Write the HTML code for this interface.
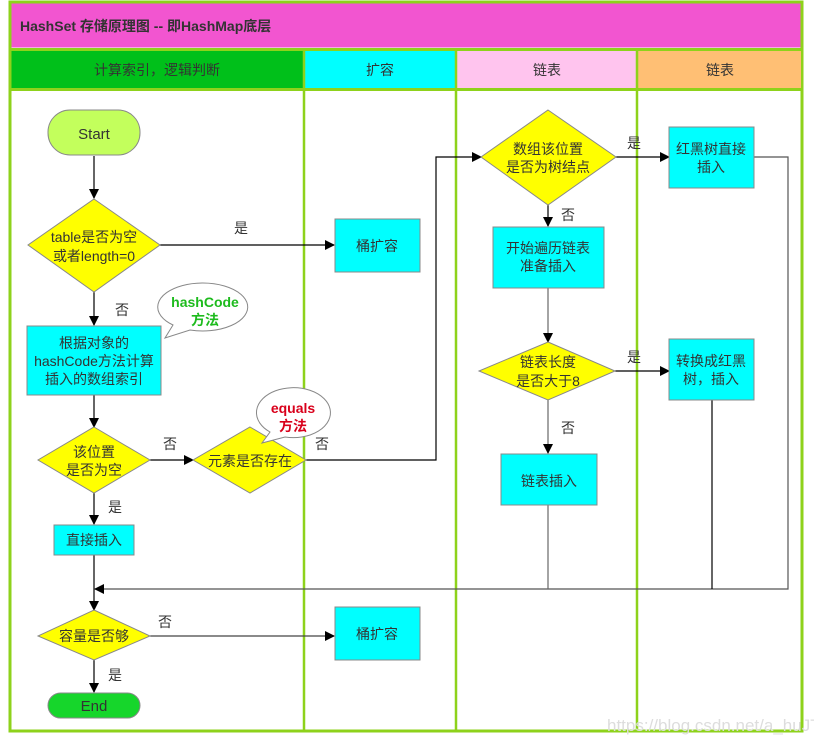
<!DOCTYPE html>
<html><head><meta charset="utf-8"><style>
html,body{margin:0;padding:0;background:#fff;}
svg{display:block;font-family:"Liberation Sans","Noto Sans CJK SC",sans-serif;}
text{font-size:14px;fill:#333;}
</style></head><body>
<svg width="814" height="743" viewBox="0 0 814 743" xmlns="http://www.w3.org/2000/svg">
<defs>
<marker id="a" markerWidth="10" markerHeight="10" refX="9" refY="5" orient="auto" markerUnits="userSpaceOnUse"><path d="M0,0 L10,5 L0,10 z" fill="#000"/></marker>
</defs>
<rect x="0" y="0" width="814" height="743" fill="#fff"/>
<rect x="10" y="2" width="792" height="729" fill="#fff" stroke="#8ed21b" stroke-width="3"/>
<rect x="11.5" y="3.5" width="789" height="44" fill="#f255d0"/>
<text x="20" y="31" style="font-size:14px;font-weight:bold;fill:#333">HashSet 存储原理图 -- 即HashMap底层</text>
<line x1="10" y1="49.5" x2="802" y2="49.5" stroke="#8ed21b" stroke-width="3"/>
<rect x="11.5" y="51" width="292" height="37" fill="#00c01a"/>
<rect x="305" y="51" width="150" height="37" fill="#00ffff"/>
<rect x="457" y="51" width="179" height="37" fill="#ffc4ee"/>
<rect x="638" y="51" width="163" height="37" fill="#ffbf74"/>
<line x1="10" y1="89.5" x2="802" y2="89.5" stroke="#8ed21b" stroke-width="3"/>
<line x1="304" y1="49" x2="304" y2="731" stroke="#8ed21b" stroke-width="2.5"/>
<line x1="456" y1="49" x2="456" y2="731" stroke="#8ed21b" stroke-width="2.5"/>
<line x1="637" y1="49" x2="637" y2="731" stroke="#8ed21b" stroke-width="2.5"/>
<g text-anchor="middle" style="font-size:15px">
<text x="157" y="75">计算索引，逻辑判断</text>
<text x="380" y="75">扩容</text>
<text x="547" y="75">链表</text>
<text x="720" y="75">链表</text>
</g>

<g stroke="#000" stroke-width="1.2" fill="none">
<line x1="94" y1="156" x2="94" y2="198" marker-end="url(#a)"/>
<line x1="160" y1="245" x2="334" y2="245" marker-end="url(#a)"/>
<line x1="94" y1="292" x2="94" y2="325" marker-end="url(#a)"/>
<line x1="94" y1="395" x2="94" y2="427" marker-end="url(#a)"/>
<line x1="150" y1="460" x2="193" y2="460" marker-end="url(#a)"/>
<polyline points="306,460 436,460 436,157 481,157" marker-end="url(#a)"/>
<line x1="616" y1="157" x2="669" y2="157" marker-end="url(#a)"/>
<polyline points="754,157 788,157 788,589 95,589" stroke="#555" marker-end="url(#a)"/>
<line x1="548" y1="205" x2="548" y2="226" marker-end="url(#a)"/>
<line x1="548" y1="288" x2="548" y2="342" stroke="#666" marker-end="url(#a)"/>
<line x1="615" y1="371" x2="669" y2="371" marker-end="url(#a)"/>
<line x1="712" y1="400" x2="712" y2="589"/>
<line x1="548" y1="400" x2="548" y2="453" stroke="#666" marker-end="url(#a)"/>
<line x1="548" y1="505" x2="548" y2="589" stroke="#666"/>
<line x1="94" y1="493" x2="94" y2="524" marker-end="url(#a)"/>
<line x1="94" y1="555" x2="94" y2="610" marker-end="url(#a)"/>
<line x1="150" y1="636" x2="334" y2="636" stroke="#444" marker-end="url(#a)"/>
<line x1="94" y1="660" x2="94" y2="692" marker-end="url(#a)"/>
</g>

<g stroke="#888" stroke-width="1">
<rect x="48" y="110" width="92" height="45" rx="22" fill="#c3ff5c"/>
<polygon points="94,199 160,245 94,292 28,245" fill="#ffff00"/>
<rect x="335" y="219" width="85" height="53" fill="#00ffff"/>
<rect x="27" y="326" width="134" height="69" fill="#00ffff"/>
<polygon points="94,427 150,460 94,493 38,460" fill="#ffff00"/>
<polygon points="250,427 306,460 250,493 193,460" fill="#ffff00"/>
<polygon points="548,110 616,157 548,205 481,157" fill="#ffff00"/>
<rect x="669" y="127" width="85" height="61" fill="#00ffff"/>
<rect x="493" y="227" width="111" height="61" fill="#00ffff"/>
<polygon points="548,342 615,371 548,400 479,371" fill="#ffff00"/>
<rect x="669" y="339" width="85" height="61" fill="#00ffff"/>
<rect x="501" y="454" width="96" height="51" fill="#00ffff"/>
<rect x="54" y="525" width="80" height="30" fill="#00ffff"/>
<polygon points="94,610 150,636 94,660 38,636" fill="#ffff00"/>
<rect x="335" y="607" width="85" height="53" fill="#00ffff"/>
<rect x="48" y="693" width="92" height="25" rx="12.5" fill="#16d62b"/>
<path d="M173,325 A45,24 0 1,1 190,330 L165,338 Z" fill="#fff"/>
<path d="M270,432 A37,25 0 1,1 285,437 L262,443 Z" fill="#fff"/>
</g>

<g text-anchor="middle">
<text x="94" y="139" style="font-size:15px">Start</text>
<text x="94" y="242">table是否为空</text>
<text x="94" y="261">或者length=0</text>
<text x="377" y="251">桶扩容</text>
<text x="94" y="348">根据对象的</text>
<text x="94" y="366">hashCode方法计算</text>
<text x="94" y="384">插入的数组索引</text>
<text x="94" y="457">该位置</text>
<text x="94" y="475">是否为空</text>
<text x="250" y="466">元素是否存在</text>
<text x="548" y="154">数组该位置</text>
<text x="548" y="172">是否为树结点</text>
<text x="711" y="154">红黑树直接</text>
<text x="711" y="172">插入</text>
<text x="548" y="253">开始遍历链表</text>
<text x="548" y="271">准备插入</text>
<text x="548" y="367">链表长度</text>
<text x="548" y="386">是否大于8</text>
<text x="711" y="366">转换成红黑</text>
<text x="711" y="384">树，插入</text>
<text x="549" y="486">链表插入</text>
<text x="94" y="545">直接插入</text>
<text x="94" y="641">容量是否够</text>
<text x="377" y="639">桶扩容</text>
<text x="94" y="711" style="font-size:15px">End</text>
<text x="205" y="307" style="font-size:14px;font-weight:bold;fill:#1dbb1d">hashCode</text>
<text x="205" y="325" style="font-size:14px;font-weight:bold;fill:#1dbb1d">方法</text>
<text x="293" y="413" style="font-size:14px;font-weight:bold;fill:#d9001b">equals</text>
<text x="293" y="431" style="font-size:14px;font-weight:bold;fill:#d9001b">方法</text>
<text x="241" y="233">是</text>
<text x="122" y="315">否</text>
<text x="170" y="449">否</text>
<text x="322" y="449">否</text>
<text x="115" y="512">是</text>
<text x="634" y="148">是</text>
<text x="568" y="220">否</text>
<text x="634" y="362">是</text>
<text x="568" y="433">否</text>
<text x="165" y="627">否</text>
<text x="115" y="680">是</text>
</g>
<text x="607" y="731" style="font-size:17px;fill:#ddd">https://blog.csdn.net/a_huJT</text>
</svg>
</body></html>
